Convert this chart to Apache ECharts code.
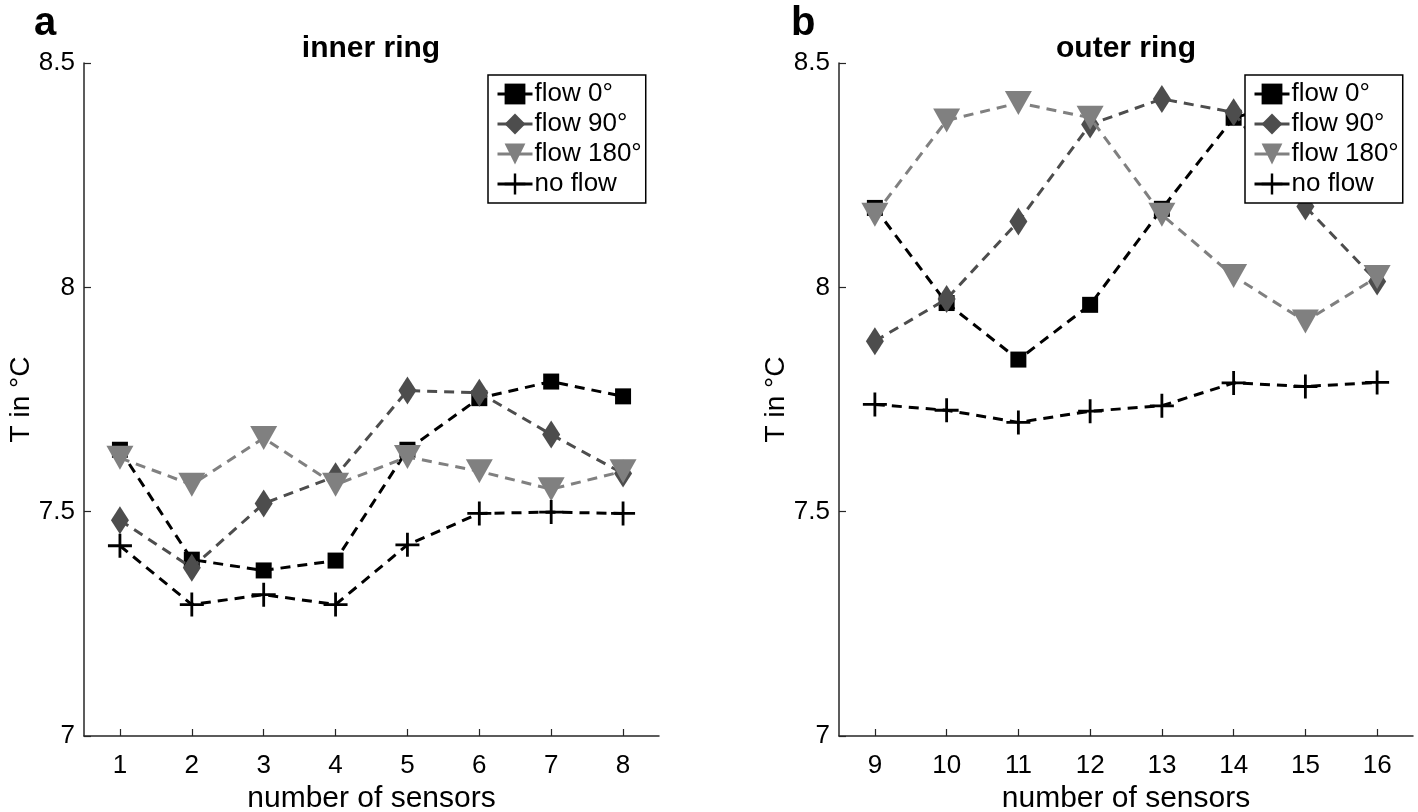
<!DOCTYPE html>
<html>
<head>
<meta charset="utf-8">
<script src="https://cdn.jsdelivr.net/npm/echarts@6/dist/echarts.min.js"></script>
<style>
html,body{margin:0;padding:0;background:#fff;}
#chart{width:1418px;height:812px;}
</style>
</head>
<body>
<div id="chart"></div>
<script>
// ---- data ----
const innerCategories = ['1','2','3','4','5','6','7','8'];
const outerCategories = ['9','10','11','12','13','14','15','16'];
const seriesNames = ['flow 0°','flow 90°','flow 180°','no flow'];

const innerFlow0   = [7.638, 7.393, 7.369, 7.391, 7.638, 7.753, 7.790, 7.757];
const innerFlow90  = [7.481, 7.375, 7.518, 7.579, 7.770, 7.765, 7.672, 7.585];
const innerFlow180 = [7.620, 7.560, 7.664, 7.560, 7.622, 7.590, 7.550, 7.590];
const innerNoFlow  = [7.424, 7.293, 7.315, 7.293, 7.426, 7.496, 7.499, 7.496];

const outerFlow0   = [8.177, 7.965, 7.839, 7.961, 8.175, 8.378, 8.420, 8.400];
const outerFlow90  = [7.880, 7.974, 8.147, 8.363, 8.420, 8.390, 8.180, 8.013];
const outerFlow180 = [8.162, 8.372, 8.411, 8.378, 8.162, 8.025, 7.924, 8.023];
const outerNoFlow  = [7.739, 7.726, 7.699, 7.724, 7.736, 7.787, 7.779, 7.788];

const yMin = 7, yMax = 8.5, yStep = 0.5;

// ---- styling ----
const FONT = '"Liberation Sans", Arial, Helvetica, sans-serif';
const AXIS_COLOR = '#262626';
const PLUS = 'path://M-1.4,-12 L1.4,-12 L1.4,-1.4 L12,-1.4 L12,1.4 L1.4,1.4 L1.4,12 L-1.4,12 L-1.4,1.4 L-12,1.4 L-12,-1.4 L-1.4,-1.4 Z';

const styles = [
  {color:'#000000', symbol:'rect', size:16, rotate:0},
  {color:'#4d4d4d', symbol:'diamond', size:[18,28], rotate:0},
  {color:'#808080', symbol:'triangle', size:[27,24], rotate:180},
  {color:'#000000', symbol:PLUS, size:24, rotate:0}
];

const grids = [
  {left:84, right:759, top:63, bottom:76, containLabel:false, outerBoundsMode:'none'},
  {left:839, right:5, top:63, bottom:76, containLabel:false, outerBoundsMode:'none'}
];

function xAxisFor(i, cats){
  return {
    type:'category', gridIndex:i, data:cats, boundaryGap:true,
    name:'number of sensors', nameLocation:'middle', nameGap:43,
    nameTextStyle:{fontFamily:FONT, fontSize:30, color:'#000'},
    axisLine:{show:true, lineStyle:{color:AXIS_COLOR, width:1.5}},
    axisTick:{show:true, alignWithLabel:true, inside:true, length:7, lineStyle:{color:AXIS_COLOR, width:1.2}},
    axisLabel:{fontFamily:FONT, fontSize:26, color:'#000', margin:17},
    splitLine:{show:false}
  };
}
function yAxisFor(i){
  return {
    type:'value', gridIndex:i, min:yMin, max:yMax, interval:yStep,
    name:'T in °C', nameLocation:'middle', nameGap:47, nameRotate:90,
    nameTextStyle:{fontFamily:FONT, fontSize:28, color:'#000'},
    axisLine:{show:true, lineStyle:{color:AXIS_COLOR, width:1.5}},
    axisTick:{show:true, inside:true, length:7, lineStyle:{color:AXIS_COLOR, width:1.2}},
    axisLabel:{fontFamily:FONT, fontSize:26, color:'#000', margin:9,
      formatter: v => String(+v.toFixed(2))},
    splitLine:{show:false}
  };
}

function makeSeries(i, dataArrs){
  return dataArrs.map((d, k) => ({
    name: seriesNames[k], type:'line', xAxisIndex:i, yAxisIndex:i,
    data: d, symbol: styles[k].symbol, symbolSize: styles[k].size,
    symbolRotate: styles[k].rotate, showAllSymbol:true,
    lineStyle:{color:styles[k].color, width:3, type:[10,7]},
    itemStyle:{color:styles[k].color},
    emphasis:{disabled:true}, animation:false, z: 2 + k*0.1
  }));
}

function legendFor(left){
  return {
    show:true, orient:'vertical', left:left, top:75,
    data: seriesNames,
    backgroundColor:'#fff', borderColor:'#000', borderWidth:1.5,
    padding:[6,4,6,8], itemGap:4, itemWidth:35, itemHeight:26,
    lineStyle:{type:'solid', width:3},
    textStyle:{fontFamily:FONT, fontSize:26, color:'#000', padding:[0,0,0,-3]},
    selectedMode:false, z:10
  };
}

const chart = echarts.init(document.getElementById('chart'), null, {renderer:'canvas'});
chart.setOption({
  backgroundColor:'#fff',
  animation:false,
  title:[
    {text:'a', left:34, top:4, padding:0, textStyle:{fontFamily:FONT, fontSize:40, fontWeight:'bold', color:'#000'}},
    {text:'inner ring', left:371, top:34, padding:0, textAlign:'center', textStyle:{fontFamily:FONT, fontSize:30, fontWeight:'bold', color:'#000'}},
    {text:'b', left:791, top:4, padding:0, textStyle:{fontFamily:FONT, fontSize:40, fontWeight:'bold', color:'#000'}},
    {text:'outer ring', left:1126, top:34, padding:0, textAlign:'center', textStyle:{fontFamily:FONT, fontSize:30, fontWeight:'bold', color:'#000'}}
  ],
  legend:[legendFor(488), legendFor(1245)],
  grid:grids,
  xAxis:[xAxisFor(0, innerCategories), xAxisFor(1, outerCategories)],
  yAxis:[yAxisFor(0), yAxisFor(1)],
  series:[
    ...makeSeries(0, [innerFlow0, innerFlow90, innerFlow180, innerNoFlow]),
    ...makeSeries(1, [outerFlow0, outerFlow90, outerFlow180, outerNoFlow])
  ]
});
</script>
</body>
</html>
